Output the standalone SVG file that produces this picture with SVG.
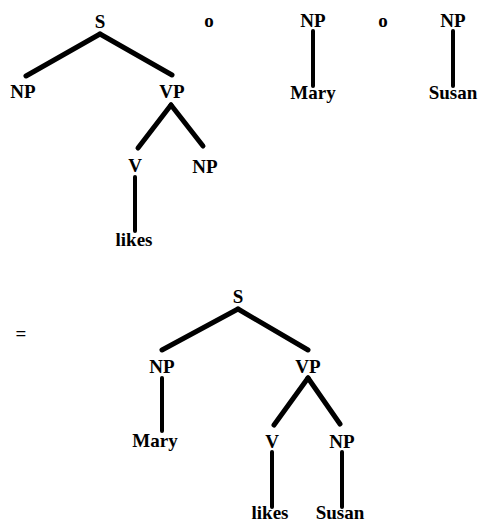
<svg xmlns="http://www.w3.org/2000/svg" width="480" height="523" viewBox="0 0 480 523">
<style>
text{font-family:"Liberation Serif","Times New Roman",serif;font-weight:bold;font-size:19px;fill:#000;text-anchor:middle}
.e{stroke:#000;stroke-width:5;stroke-linecap:round;fill:none}
.v{stroke:#000;stroke-width:4;stroke-linecap:round;fill:none}
</style>
<rect width="480" height="523" fill="#fff"/>
<g id="connectors">
<line class="e" x1="100" y1="34" x2="26" y2="76"/>
<line class="e" x1="100" y1="34" x2="172" y2="75"/>
<line class="e" x1="171" y1="105" x2="138" y2="148"/>
<line class="e" x1="171" y1="105" x2="203" y2="146"/>
<line class="v" x1="135" y1="177" x2="135" y2="231"/>
<line class="v" x1="313" y1="31" x2="313" y2="86"/>
<line class="v" x1="453" y1="31" x2="453" y2="86"/>
<line class="e" x1="238" y1="309" x2="162" y2="350"/>
<line class="e" x1="238" y1="309" x2="308" y2="350"/>
<line class="e" x1="308" y1="378" x2="274" y2="425"/>
<line class="e" x1="308" y1="378" x2="340" y2="424"/>
<line class="v" x1="162" y1="378" x2="162" y2="431"/>
<line class="v" x1="272" y1="452" x2="272" y2="507"/>
<line class="v" x1="342" y1="452" x2="342" y2="507"/>
</g>
<g id="t1-S"><text x="100" y="28">S</text></g>
<g id="t1-NP"><text x="23" y="98">NP</text></g>
<g id="t1-VP"><text x="172" y="98">VP</text></g>
<g id="t1-V"><text x="135" y="172">V</text></g>
<g id="t1-NP2"><text x="205" y="173">NP</text></g>
<g id="t1-likes"><text x="134" y="246">likes</text></g>
<g id="op1"><text x="209" y="27">o</text></g>
<g id="t2-NP"><text x="313" y="27">NP</text></g>
<g id="t2-Mary"><text x="313" y="99">Mary</text></g>
<g id="op2"><text x="383" y="27">o</text></g>
<g id="t3-NP"><text x="453" y="27">NP</text></g>
<g id="t3-Susan"><text x="453" y="99">Susan</text></g>
<g id="eq"><text x="21" y="340">=</text></g>
<g id="r-S"><text x="238" y="303">S</text></g>
<g id="r-NP"><text x="162" y="373">NP</text></g>
<g id="r-VP"><text x="308" y="373">VP</text></g>
<g id="r-Mary"><text x="155" y="447">Mary</text></g>
<g id="r-V"><text x="272" y="448">V</text></g>
<g id="r-NP2"><text x="342" y="448">NP</text></g>
<g id="r-likes"><text x="270" y="519">likes</text></g>
<g id="r-Susan"><text x="340" y="519">Susan</text></g>
</svg>
